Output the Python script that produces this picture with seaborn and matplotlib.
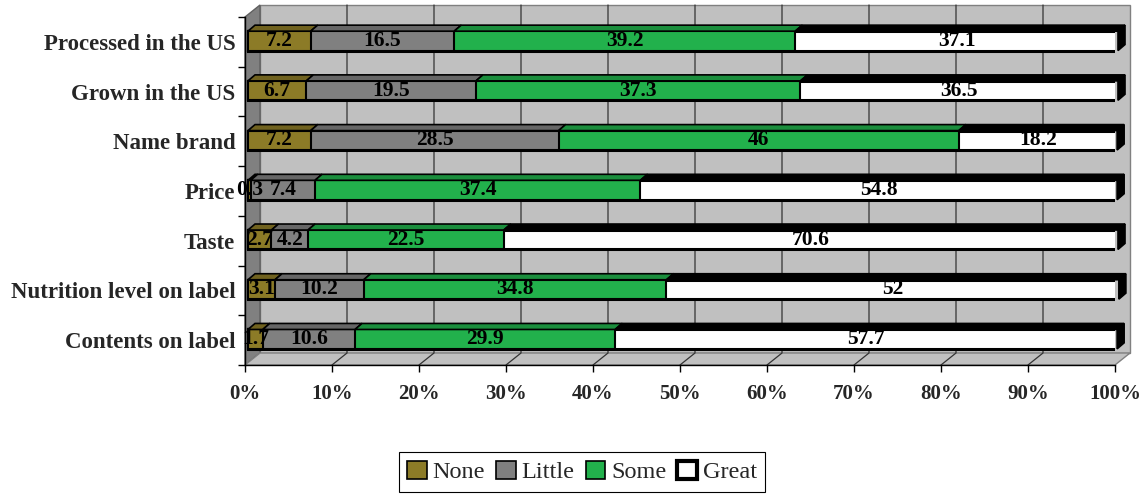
import matplotlib
matplotlib.use("Agg")
import matplotlib.pyplot as plt
import matplotlib.transforms as mtransforms
from matplotlib.patches import Polygon, Patch
import numpy as np
import pandas as pd
import seaborn as sns

# --- data ---
categories = ["Processed in the US", "Grown in the US", "Name brand", "Price",
              "Taste", "Nutrition level on label", "Contents on label"]
none_vals = [7.2, 6.7, 7.2, 0.3, 2.7, 3.1, 1.7]
little_vals = [16.5, 19.5, 28.5, 7.4, 4.2, 10.2, 10.6]
some_vals = [39.2, 37.3, 46, 37.4, 22.5, 34.8, 29.9]
great_vals = [37.1, 36.5, 18.2, 54.8, 70.6, 52, 57.7]
series_names = ["None", "Little", "Some", "Great"]
series_colors = ["#8c7b27", "#808080", "#22b14c", "#ffffff"]
x_ticks = list(range(0, 101, 10))
x_tick_labels = [f"{t}%" for t in x_ticks]

sns.set_theme(style="white")
plt.rcParams["font.family"] = ["Liberation Serif", "DejaVu Serif"]

DPI = 100
W, H = 1140, 496
fig = plt.figure(figsize=(W / DPI, H / DPI), dpi=DPI)
fig.patch.set_facecolor("white")

# front plane of the fake 3D box (pixels from top-left)
FX0, FX1, FY0, FY1 = 245, 1115, 17, 365
ax = fig.add_axes([FX0 / W, 1 - FY1 / H, (FX1 - FX0) / W, (FY1 - FY0) / H])
ax.patch.set_visible(False)

bg = fig.add_axes([0, 0, 1, 1], zorder=-1)
bg.set_xlim(0, W)
bg.set_ylim(0, H)
bg.axis("off")

DEPTH = np.array([15, 12])      # back wall offset, px (right, up)
BAR_SHIFT = np.array([3, 1])    # bars sit a little behind the front plane
BAR_DEPTH = np.array([7, 6])
BAR_H = 0.39

df = pd.DataFrame({"category": categories, "None": none_vals, "Little": little_vals,
                   "Some": some_vals, "Great": great_vals})
cum = df[series_names].cumsum(axis=1)
cum["category"] = categories

# stacked bars: draw cumulative totals from the right-most series down
for name, color in reversed(list(zip(series_names, series_colors))):
    sns.barplot(data=cum, x=name, y="category", orient="h", color=color,
                saturation=1, width=BAR_H, edgecolor="black",
                linewidth=2.2 if name == "Great" else 1.5,
                errorbar=None, ax=ax, zorder=2)

ax.set_xlim(0, 100)
ax.set_ylim(len(categories) - 0.5, -0.5)

shift = mtransforms.ScaledTranslation(BAR_SHIFT[0] / DPI, BAR_SHIFT[1] / DPI, fig.dpi_scale_trans)
for p in ax.patches:
    p.set_transform(ax.transData + shift)


def disp(x, y, off=(0, 0)):
    return ax.transData.transform((x, y)) + np.asarray(off)


ident = mtransforms.IdentityTransform()
ytop_all, ybot_all = -0.5, len(categories) - 0.5

# walls and floor
bg.add_patch(Polygon([disp(0, ytop_all, DEPTH), disp(100, ytop_all, DEPTH),
                      disp(100, ybot_all, DEPTH), disp(0, ybot_all, DEPTH)],
                     closed=True, facecolor="#c0c0c0", edgecolor="#808080", lw=1))
bg.add_patch(Polygon([disp(0, ytop_all), disp(0, ytop_all, DEPTH),
                      disp(0, ybot_all, DEPTH), disp(0, ybot_all)],
                     closed=True, facecolor="#808080", edgecolor="#606060", lw=1))
bg.add_patch(Polygon([disp(0, ybot_all), disp(100, ybot_all),
                      disp(100, ybot_all, DEPTH), disp(0, ybot_all, DEPTH)],
                     closed=True, facecolor="#c0c0c0", edgecolor="#808080", lw=1))
for t in x_ticks[1:-1]:
    a, b, c = disp(t, ytop_all, DEPTH), disp(t, ybot_all, DEPTH), disp(t, ybot_all)
    bg.plot([a[0], b[0], c[0]], [a[1], b[1], c[1]], color="#333333", lw=0.9)


def shade(color, k=0.8):
    rgb = np.array(matplotlib.colors.to_rgb(color))
    if rgb.min() > 0.95:
        return "black"
    return tuple(rgb * k)


# top faces, end faces and value labels
vals = df[series_names].to_numpy()
for i in range(len(categories)):
    left = 0.0
    yt, yb = i - BAR_H / 2, i + BAR_H / 2
    for j, name in enumerate(series_names):
        v = vals[i, j]
        right = left + v
        top = Polygon([disp(left, yt, BAR_SHIFT), disp(right, yt, BAR_SHIFT),
                       disp(right, yt, BAR_SHIFT + BAR_DEPTH), disp(left, yt, BAR_SHIFT + BAR_DEPTH)],
                      closed=True, facecolor=shade(series_colors[j]), edgecolor="black",
                      lw=1.2, transform=ident, clip_on=False, zorder=2)
        ax.add_patch(top)
        if j == len(series_names) - 1:
            side = Polygon([disp(right, yt, BAR_SHIFT), disp(right, yb, BAR_SHIFT),
                            disp(right, yb, BAR_SHIFT + BAR_DEPTH), disp(right, yt, BAR_SHIFT + BAR_DEPTH)],
                           closed=True, facecolor="black", edgecolor="black",
                           lw=1.2, transform=ident, clip_on=False, zorder=2)
            ax.add_patch(side)
        ax.text((left + right) / 2, i, f"{v:g}", transform=ax.transData + shift,
                ha="center", va="center", fontsize=15.5, fontweight="bold",
                color="black", zorder=4, clip_on=False)
        left = right

# axes, ticks and labels
for s in ["top", "right"]:
    ax.spines[s].set_visible(False)
for s in ["left", "bottom"]:
    ax.spines[s].set_color("black")
    ax.spines[s].set_linewidth(1)
    ax.spines[s].set_zorder(3)

ax.set_xticks(x_ticks, labels=x_tick_labels)
ax.set_yticks(range(len(categories)), labels=categories)
ax.set_yticks(np.arange(-0.5, len(categories), 1), minor=True)
ax.tick_params(axis="x", direction="out", length=5, width=1, color="black",
               pad=9, labelsize=15, bottom=True)
ax.tick_params(axis="y", which="major", length=0, pad=7, labelsize=16.5, left=True)
ax.tick_params(axis="y", which="minor", direction="out", length=5, width=1,
               color="black", left=True)
for lab in ax.get_xticklabels() + ax.get_yticklabels():
    lab.set_fontweight("bold")
ax.set_xlabel("")
ax.set_ylabel("")
ax.grid(False)

handles = [Patch(facecolor=c, edgecolor="black", linewidth=3 if n == "Great" else 1.2)
           for n, c in zip(series_names, series_colors)]
leg = fig.legend(handles, series_names, loc="center",
                 bbox_to_anchor=(582 / W, 1 - 472 / H), ncol=4, frameon=True,
                 fancybox=False, edgecolor="black", framealpha=1, fontsize=17.5,
                 handlelength=0.8, handleheight=0.8, handletextpad=0.25,
                 columnspacing=0.45, borderpad=0.35)
leg.get_frame().set_linewidth(0.8)

fig.savefig("out.png", dpi=DPI)
